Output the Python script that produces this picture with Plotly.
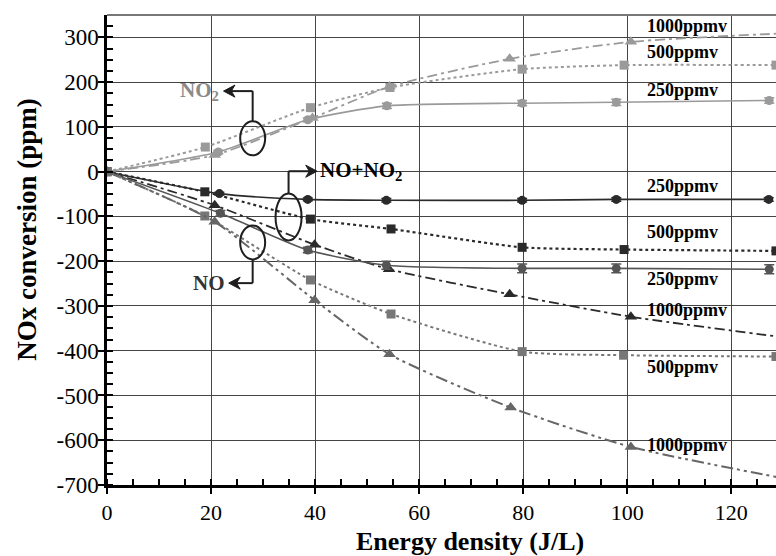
import plotly.graph_objects as go

# ---------------- data ----------------
# NO2 (formation, positive)
x_no2_250 = [0, 21.4, 38.6, 53.8, 79.8, 97.9, 127.3]
y_no2_250 = [0, 44, 116, 147, 153, 155, 159]
e_no2_250 = [0, 4, 4, 6, 6, 7, 6]
x_no2_500 = [0, 18.9, 39.1, 54.4, 79.8, 99.4, 128.6]
y_no2_500 = [0, 55, 143, 188, 229, 238, 238]
x_no2_1000 = [0, 20.7, 39.5, 54.3, 77.4, 100.7, 130]
y_no2_1000 = [0, 37, 120, 190, 252, 290, 309]

# NO + NO2 (total)
x_tot_250 = [0, 21.6, 38.6, 53.7, 79.8, 97.9, 127.2]
y_tot_250 = [0, -49, -62, -64, -64, -62, -62]
e_tot_250 = [0, 3, 3, 4, 4, 4, 4]
x_tot_500 = [0, 18.8, 39.1, 54.6, 79.8, 99.4, 128.6]
y_tot_500 = [0, -45, -106, -128, -169, -174, -177]
x_tot_1000 = [0, 20.7, 39.9, 54.2, 77.4, 100.7, 130]
y_tot_1000 = [0, -75, -163, -218, -274, -324, -370]

# NO (removal)
x_no_250 = [0, 21.8, 38.6, 53.7, 79.8, 97.9, 127.3]
y_no_250 = [0, -93, -175, -209, -216, -216, -218]
e_no_250 = [0, 6, 6, 9, 10, 10, 10]
x_no_500 = [0, 18.8, 39.1, 54.6, 79.8, 99.3, 128.6]
y_no_500 = [0, -99, -242, -318, -402, -410, -413]
x_no_1000 = [0, 20.7, 39.9, 54.3, 77.6, 100.7, 130]
y_no_1000 = [0, -112, -287, -408, -527, -615, -685]

conc_labels = ["1000ppmv", "500ppmv", "250ppmv", "250ppmv", "500ppmv",
               "250ppmv", "1000ppmv", "500ppmv", "1000ppmv"]
conc_label_y = [325, 267, 182, -32, -135, -239, -309, -436, -611]
conc_label_x = 103.4

x_ticks = [0, 20, 40, 60, 80, 100, 120]
y_ticks = [300, 200, 100, 0, -100, -200, -300, -400, -500, -600, -700]

FONT = "Liberation Serif"
C_NO2 = "#9a9a9a"
C_TOT = "#2a2a2a"
C_NO = "#555555"
C_ANN = "#1e1e1e"

fig = go.Figure()


def add(x, y, color, dash, symbol, width=1.6, err=None, msize=9):
    tr = dict(x=x, y=y, mode="lines+markers",
              line=dict(color=color, dash=dash, width=width, shape="spline", smoothing=0.6),
              marker=dict(color=color, symbol=symbol, size=msize),
              showlegend=False, hoverinfo="skip")
    if err is not None:
        tr["error_y"] = dict(type="data", array=err, visible=True, color=color,
                             thickness=1.5, width=5)
    fig.add_trace(go.Scatter(**tr))


add(x_no2_250, y_no2_250, C_NO2, "solid", "circle", err=e_no2_250)
add(x_no2_500, y_no2_500, C_NO2, "dot", "square", width=2)
add(x_no2_1000, y_no2_1000, C_NO2, "10px,4px,3px,4px", "triangle-up", width=1.8, msize=11)

add(x_tot_250, y_tot_250, C_TOT, "solid", "circle", err=e_tot_250)
add(x_tot_500, y_tot_500, C_TOT, "dot", "square", width=2.2)
add(x_tot_1000, y_tot_1000, C_TOT, "10px,4px,3px,4px", "triangle-up", width=1.8, msize=11)

add(x_no_250, y_no_250, C_NO, "solid", "circle", err=e_no_250)
add(x_no_500, y_no_500, "#777777", "dot", "square", width=2)
add(x_no_1000, y_no_1000, "#666666", "12px,4px,3px,4px,3px,4px", "triangle-up", width=2, msize=11)

annotations = []
for t, yy in zip(conc_labels, conc_label_y):
    annotations.append(dict(x=conc_label_x, y=yy, xref="x", yref="y", text="<b>%s</b>" % t,
                            showarrow=False, xanchor="left", yanchor="middle",
                            font=dict(family=FONT, size=18, color="black")))

annotations.append(dict(x=21.9, y=180, xref="x", yref="y", text="<b>NO<sub>2</sub></b>",
                        showarrow=False, xanchor="right", yanchor="middle",
                        font=dict(family=FONT, size=21, color="#8a8a8a")))
annotations.append(dict(x=40.6, y=1, xref="x", yref="y", text="<b>NO+NO<sub>2</sub></b>",
                        showarrow=False, xanchor="left", yanchor="middle",
                        font=dict(family=FONT, size=21, color="black")))
annotations.append(dict(x=23.0, y=-249, xref="x", yref="y", text="<b>NO</b>",
                        showarrow=False, xanchor="right", yanchor="middle",
                        font=dict(family=FONT, size=21, color="#333")))

# axis titles
annotations.append(dict(x=0.542, y=0, xref="paper", yref="paper", yshift=-56,
                        text="<b>Energy density (J/L)</b>", showarrow=False,
                        xanchor="center", yanchor="middle",
                        font=dict(family=FONT, size=26, color="black")))
annotations.append(dict(x=0, y=0.543, xref="paper", yref="paper", xshift=-80,
                        text="<b>NOx conversion (ppm)</b>", showarrow=False, textangle=-90,
                        xanchor="center", yanchor="middle",
                        font=dict(family=FONT, size=27, color="black")))


def arrow_left(tx, ty):
    return "M %g,%g L %g,%g L %g,%g L %g,%g Z" % (tx, ty, tx + 2.2, ty + 13.5,
                                                  tx + 1.5, ty, tx + 2.2, ty - 13.5)


def arrow_right(tx, ty):
    return "M %g,%g L %g,%g L %g,%g L %g,%g Z" % (tx, ty, tx - 2.2, ty + 13.5,
                                                  tx - 1.5, ty, tx - 2.2, ty - 13.5)


ln = dict(color=C_ANN, width=2)
shapes = [
    # ellipses
    dict(type="circle", xref="x", yref="y", x0=25.6, x1=30.4, y0=36.6, y1=112.6, line=ln),
    dict(type="circle", xref="x", yref="y", x0=32.4, x1=37.4, y0=-153.5, y1=-48.5, line=ln),
    dict(type="circle", xref="x", yref="y", x0=25.6, x1=30.4, y0=-196, y1=-120, line=ln),
    # connectors (NO2)
    dict(type="line", xref="x", yref="y", x0=28, x1=28, y0=112.6, y1=180, line=ln),
    dict(type="line", xref="x", yref="y", x0=28, x1=23.6, y0=180, y1=180, line=ln),
    dict(type="path", xref="x", yref="y", path=arrow_left(22.4, 180),
         fillcolor=C_ANN, line=dict(color=C_ANN, width=1)),
    # connectors (NO+NO2)
    dict(type="line", xref="x", yref="y", x0=34.9, x1=34.9, y0=-48.5, y1=1, line=ln),
    dict(type="line", xref="x", yref="y", x0=34.9, x1=39.2, y0=1, y1=1, line=ln),
    dict(type="path", xref="x", yref="y", path=arrow_right(40.4, 1),
         fillcolor=C_ANN, line=dict(color=C_ANN, width=1)),
    # connectors (NO)
    dict(type="line", xref="x", yref="y", x0=28, x1=28, y0=-196, y1=-249, line=ln),
    dict(type="line", xref="x", yref="y", x0=28, x1=24.6, y0=-249, y1=-249, line=ln),
    dict(type="path", xref="x", yref="y", path=arrow_left(23.4, -249),
         fillcolor=C_ANN, line=dict(color=C_ANN, width=1)),
    # top border
    dict(type="line", xref="paper", yref="paper", x0=0, x1=1, y0=1, y1=1,
         line=dict(color="#777", width=2)),
]

fig.update_layout(
    width=776, height=556,
    margin=dict(l=107, r=0, t=15, b=71),
    paper_bgcolor="white", plot_bgcolor="white",
    font=dict(family=FONT, color="black"),
    showlegend=False,
    annotations=annotations,
    shapes=shapes,
)
fig.update_xaxes(
    range=[0, 128.6], tickvals=x_ticks, ticktext=[str(v) for v in x_ticks],
    showgrid=True, gridcolor="#444", gridwidth=1, zeroline=False,
    showline=True, linecolor="black", linewidth=2.5,
    ticks="outside", ticklen=6, tickwidth=2, tickcolor="black",
    minor=dict(ticks="inside", dtick=5, ticklen=6, tickwidth=1.5, tickcolor="black", showgrid=False),
    tickfont=dict(family=FONT, size=22, color="black"),
)
fig.update_yaxes(
    range=[-700, 350], tickvals=y_ticks, ticktext=[str(v) for v in y_ticks],
    showgrid=True, gridcolor="#444", gridwidth=1, zeroline=False,
    showline=True, linecolor="black", linewidth=2.5,
    ticks="outside", ticklen=6, tickwidth=2, tickcolor="black",
    ticklabelstandoff=-5,
    minor=dict(ticks="inside", dtick=25, ticklen=6, tickwidth=1.5, tickcolor="black", showgrid=False),
    tickfont=dict(family=FONT, size=23, color="black"),
)

fig.write_html("out.html")
